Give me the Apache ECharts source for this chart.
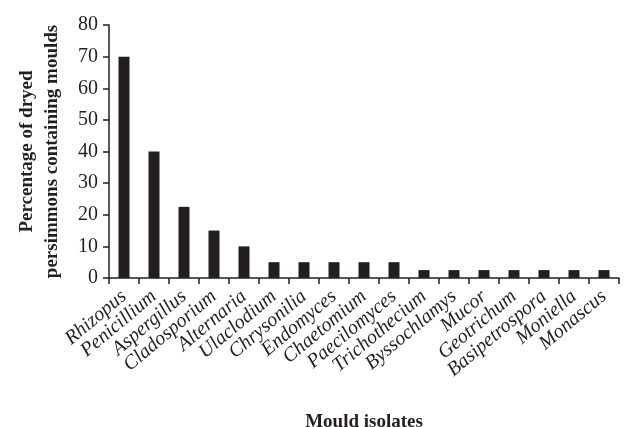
<!DOCTYPE html>
<html>
<head>
<meta charset="utf-8">
<script src="https://cdn.jsdelivr.net/npm/echarts@6/dist/echarts.min.js"></script>
<style>html,body{margin:0;padding:0;background:#fff;}#c{width:625px;height:427px;}</style>
</head>
<body>
<div id="c"></div>
<script>
const categories = ['Rhizopus','Penicillium','Aspergillus','Cladosporium','Alternaria','Ulaclodium','Chrysonilia','Endomyces','Chaetomium','Paecilomyces','Trichothecium','Byssochlamys','Mucor','Geotrichum','Basipetrospora','Moniella','Monascus'];
const values = [70, 40, 22.5, 15, 10, 5, 5, 5, 5, 5, 2.5, 2.5, 2.5, 2.5, 2.5, 2.5, 2.5];
const yTicks = [0, 10, 20, 30, 40, 50, 60, 70, 80];

const ink = '#231f20';
const serif = '"Liberation Serif", "Times New Roman", serif';
const chart = echarts.init(document.getElementById('c'), null, {renderer: 'canvas'});
chart.setOption({
  animation: false,
  grid: {left: 109, right: 6, top: 25, bottom: 149, containLabel: false, outerBoundsMode: 'none'},
  xAxis: {
    type: 'category',
    data: categories,
    name: 'Mould isolates',
    nameLocation: 'middle',
    nameGap: 135,
    nameTextStyle: {fontFamily: serif, fontWeight: 'bold', fontSize: 19, color: ink},
    axisLine: {lineStyle: {color: ink, width: 1.5}},
    axisTick: {show: true, length: 6, lineStyle: {color: ink, width: 1.5}},
    axisLabel: {rotate: 40, margin: 16, interval: 0, fontFamily: serif, fontStyle: 'italic', fontSize: 20, color: ink}
  },
  yAxis: {
    type: 'value',
    min: yTicks[0],
    max: yTicks[yTicks.length - 1],
    interval: 10,
    name: 'Percentage of dryed\npersimmons containing moulds',
    nameLocation: 'middle',
    nameGap: 44,
    nameTextStyle: {fontFamily: serif, fontWeight: 'bold', fontSize: 19, color: ink, lineHeight: 25},
    splitLine: {show: false},
    axisLine: {show: true, lineStyle: {color: ink, width: 1.5}},
    axisTick: {show: true, length: 6, lineStyle: {color: ink, width: 1.5}},
    axisLabel: {margin: 11, fontFamily: serif, fontSize: 20, color: ink}
  },
  series: [{
    type: 'bar',
    data: values,
    barWidth: 11,
    itemStyle: {color: ink}
  }]
});
</script>
</body>
</html>
